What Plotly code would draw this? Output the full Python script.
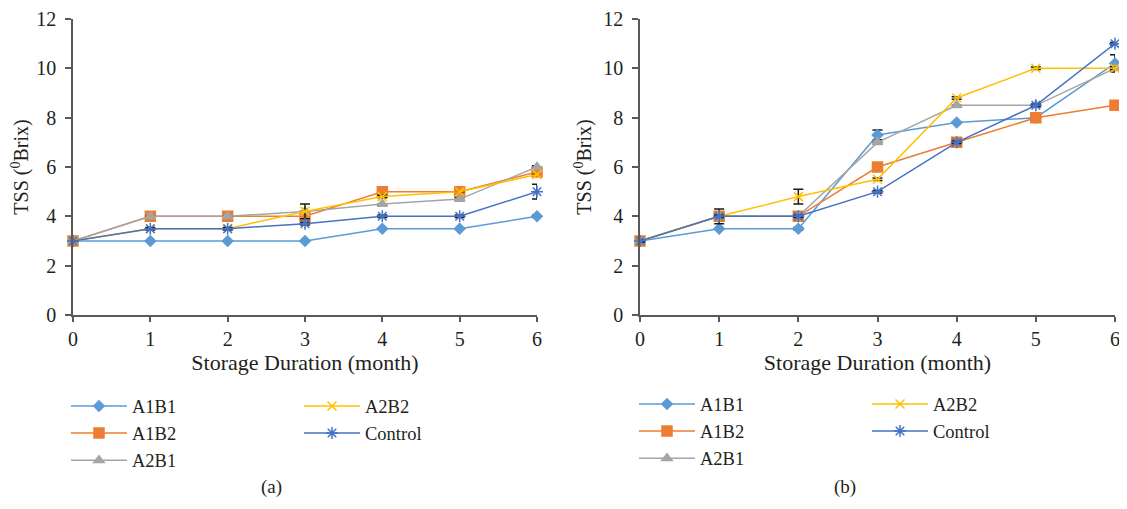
import plotly.graph_objects as go

months = [0, 1, 2, 3, 4, 5, 6]
series_names = ["A1B1", "A1B2", "A2B1", "A2B2", "Control"]

# Panel (a)
a_A1B1 = [3, 3, 3, 3, 3.5, 3.5, 4]
a_A1B2 = [3, 4, 4, 4, 5, 5, 5.8]
a_A2B1 = [3, 4, 4, 4.2, 4.5, 4.7, 6]
a_A2B2 = [3, 3.5, 3.5, 4.2, 4.8, 5, 5.7]
a_Control = [3, 3.5, 3.5, 3.7, 4, 4, 5]
a_err_A1B1 = [0, 0, 0, 0, 0, 0, 0.05]
a_err_A1B2 = [0.05, 0, 0, 0.1, 0.05, 0.05, 0.05]
a_err_A2B1 = [0, 0, 0, 0, 0, 0.05, 0.05]
a_err_A2B2 = [0, 0, 0, 0.3, 0.05, 0, 0]
a_err_Control = [0, 0.05, 0.05, 0.05, 0.05, 0.05, 0.3]

# Panel (b)
b_A1B1 = [3, 3.5, 3.5, 7.3, 7.8, 8, 10.2]
b_A1B2 = [3, 4, 4, 6, 7, 8, 8.5]
b_A2B1 = [3, 4, 4, 7, 8.5, 8.5, 10]
b_A2B2 = [3, 4, 4.8, 5.5, 8.8, 10, 10]
b_Control = [3, 4, 4, 5, 7, 8.5, 11]
b_err_A1B1 = [0, 0, 0.05, 0.2, 0, 0, 0.35]
b_err_A1B2 = [0.05, 0.3, 0.05, 0, 0, 0, 0]
b_err_A2B1 = [0, 0, 0, 0, 0, 0, 0.05]
b_err_A2B2 = [0, 0, 0.3, 0.05, 0.05, 0.05, 0.05]
b_Control_err = [0.05, 0.05, 0.05, 0.05, 0.05, 0.05, 0.05]

colors = ["#5B9BD5", "#ED7D31", "#A5A5A5", "#FFC000", "#4472C4"]
symbols = ["diamond", "square", "triangle-up", "x-thin-open", "asterisk-open"]
msizes = [8, 10, 9, 9, 10]

FONT = "Liberation Serif"
TXT = "#231f20"
# the page body has an 8px margin: size the figure so the page does not scroll
OFF = 8
W, H = 1127 - 2 * OFF, 509 - 2 * OFF


def px(v):
    return (v - OFF) / W


def py(v):
    return (H - (v - OFF)) / H


fig = go.Figure()

panels = [
    ("x", "y", [a_A1B1, a_A1B2, a_A2B1, a_A2B2, a_Control],
     [a_err_A1B1, a_err_A1B2, a_err_A2B1, a_err_A2B2, a_err_Control], ["legend", "legend2"]),
    ("x2", "y2", [b_A1B1, b_A1B2, b_A2B1, b_A2B2, b_Control],
     [b_err_A1B1, b_err_A1B2, b_err_A2B1, b_err_A2B2, b_Control_err], ["legend3", "legend4"]),
]

for xa, ya, vals, errs, legs in panels:
    for i, name in enumerate(series_names):
        fig.add_trace(go.Scatter(
            x=months, y=vals[i], name=name, xaxis=xa, yaxis=ya,
            mode="lines+markers", cliponaxis=False,
            line=dict(color=colors[i], width=1.5),
            marker=dict(symbol=symbols[i], size=msizes[i], color=colors[i],
                        line=dict(color=colors[i], width=1.5)),
            error_y=dict(type="data", array=errs[i], visible=True,
                         color="#1a1a1a", thickness=1.5, width=5),
            legend=legs[0] if i < 3 else legs[1],
            legendgroup=name + xa,
        ))

axis_common = dict(
    showline=True, linecolor="#595959", linewidth=1.5,
    ticks="outside", tickcolor="#595959", tickwidth=1.5,
    showgrid=False, zeroline=False, automargin=False,
    ticklabeloverflow="allow",
    tickfont=dict(family=FONT, size=20, color=TXT),
)
xcommon = dict(range=[0, 6], dtick=1, ticklen=5,
               title=dict(text="Storage Duration (month)", font=dict(size=22), standoff=5),
               **axis_common)
ycommon = dict(range=[0, 12], dtick=2, ticklen=6, ticklabelstandoff=5,
               title=dict(text="TSS (<sup>0</sup>Brix)", font=dict(size=20), standoff=6),
               **axis_common)

fig.update_layout(
    width=W, height=H,
    margin=dict(l=0, r=0, t=0, b=0, autoexpand=False),
    paper_bgcolor="white", plot_bgcolor="white",
    font=dict(family=FONT, size=19, color=TXT),
    xaxis=dict(domain=[px(73), px(537)], anchor="y", **xcommon),
    yaxis=dict(domain=[py(315), py(19)], anchor="x", **ycommon),
    xaxis2=dict(domain=[px(640), px(1115)], anchor="y2", **xcommon),
    yaxis2=dict(domain=[py(315), py(19)], anchor="x2", **ycommon),
    showlegend=True,
)

leg_common = dict(orientation="v", xanchor="left", yanchor="top", bgcolor="rgba(0,0,0,0)",
                  font=dict(family=FONT, size=18.5, color=TXT), tracegroupgap=0,
                  traceorder="grouped", itemwidth=56)
fig.update_layout(
    legend=dict(x=px(66), y=py(387.5), **leg_common),
    legend2=dict(x=px(299), y=py(387.5), **leg_common),
    legend3=dict(x=px(634), y=py(385.5), **leg_common),
    legend4=dict(x=px(867), y=py(385.5), **leg_common),
)

fig.add_annotation(text="(a)", x=px(271), y=py(500), xref="paper", yref="paper",
                   xanchor="center", yanchor="bottom",
                   showarrow=False, font=dict(family=FONT, size=19, color=TXT))
fig.add_annotation(text="(b)", x=px(845), y=py(500), xref="paper", yref="paper",
                   xanchor="center", yanchor="bottom",
                   showarrow=False, font=dict(family=FONT, size=19, color=TXT))

fig.write_html("out.html")
